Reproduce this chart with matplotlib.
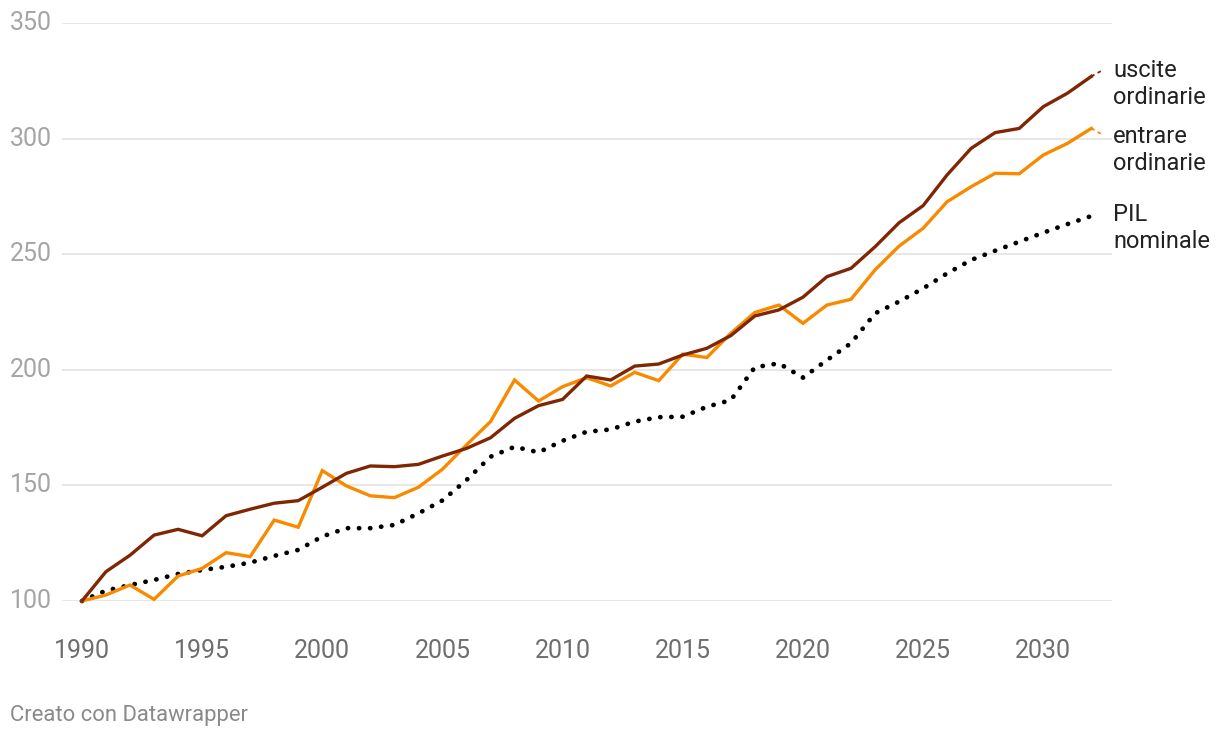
import matplotlib.pyplot as plt

# Indice 1990 = 100
anni = list(range(1990, 2033))

uscite = [100, 112.7, 119.8, 128.5, 131.0, 128.2, 136.9, 139.7, 142.3, 143.4,
          149.2, 155.2, 158.4, 158.1, 159.1, 162.7, 166.0, 170.6, 179.0, 184.5,
          187.2, 197.3, 195.6, 201.6, 202.5, 206.4, 209.3, 214.8, 223.3, 225.9,
          231.4, 240.3, 243.9, 253.2, 263.6, 271.0, 284.3, 295.8, 302.6, 304.4,
          313.8, 319.6, 326.9]

entrate = [100, 102.6, 106.9, 100.7, 110.8, 114.1, 120.9, 119.2, 135.0, 131.9,
           156.4, 149.8, 145.5, 144.7, 149.2, 157.0, 167.5, 177.6, 195.6, 186.5,
           192.7, 196.6, 193.0, 198.9, 195.3, 206.8, 205.3, 215.8, 224.8, 228.0,
           220.1, 228.0, 230.5, 243.2, 253.5, 261.2, 272.7, 279.2, 285.0, 284.8,
           292.9, 297.9, 304.4]

pil = [100, 104.5, 106.9, 109.1, 111.7, 113.4, 114.8, 116.6, 119.5, 122.1,
       127.9, 131.5, 131.5, 132.9, 137.9, 143.5, 152.3, 162.4, 166.7, 164.3,
       169.3, 173.2, 174.2, 177.6, 179.5, 179.7, 184.0, 186.9, 201.1, 202.8,
       196.6, 204.2, 211.5, 224.4, 229.5, 235.2, 241.7, 247.5, 251.5, 255.4,
       259.3, 263.0, 266.5]

x_ticks = [1990, 1995, 2000, 2005, 2010, 2015, 2020, 2025, 2030]
y_ticks = [100, 150, 200, 250, 300, 350]

c_uscite = "#7f2704"
c_entrate = "#f98a00"

plt.rcParams["font.family"] = ["Roboto", "DejaVu Sans"]

fig = plt.figure(figsize=(12.2, 7.4), dpi=100)
ax = fig.add_axes([62 / 1220, 1 - 601 / 740, 1050 / 1220, 578 / 740])

for y in y_ticks:
    ax.axhline(y, color="#e3e3e3", lw=1.2, zorder=0)

ax.plot(anni, pil, color="black", lw=3.4, linestyle=(0, (0.05, 2.3)),
        dash_capstyle="round", clip_on=False, zorder=2)
ax.plot(anni, entrate, color=c_entrate, lw=2.4, clip_on=False, zorder=3,
        solid_joinstyle="miter")
ax.plot(anni, uscite, color=c_uscite, lw=2.4, clip_on=False, zorder=4,
        solid_joinstyle="miter")

# connettori etichette
ax.plot([2032, 2032.45], [uscite[-1], uscite[-1] + 2.6], color=c_uscite,
        lw=1.3, linestyle=(0, (2, 2)), clip_on=False)
ax.plot([2032, 2032.45], [entrate[-1], entrate[-1] - 2.6], color=c_entrate,
        lw=1.3, linestyle=(0, (2, 2)), clip_on=False)

ax.set_xlim(1989.17, 2032.86)
ax.set_ylim(100, 350)
for s in ax.spines.values():
    s.set_visible(False)
ax.set_xticks(x_ticks)
ax.set_yticks([])
ax.tick_params(axis="x", length=0, pad=27, labelsize=18, labelcolor="#6e6e6e")

for y in y_ticks:
    fig.text(10 / 1220, 1 - (601 - (y - 100) * 2.312) / 740, str(y),
             fontsize=18, color="#a5a5a5", ha="left", va="center")

etichette = [("uscite\nordinarie", 84), ("entrare\nordinarie", 150),
             ("PIL\nnominale", 228)]
for testo, py in etichette:
    fig.text(1113 / 1220, 1 - py / 740, testo, fontsize=17, color="#222222",
             ha="left", va="center", linespacing=1.2)

fig.text(10 / 1220, 1 - 716 / 740, "Creato con Datawrapper", fontsize=15.8,
         color="#8a8a8a", ha="left", va="center")

fig.savefig("out.png", dpi=100)
